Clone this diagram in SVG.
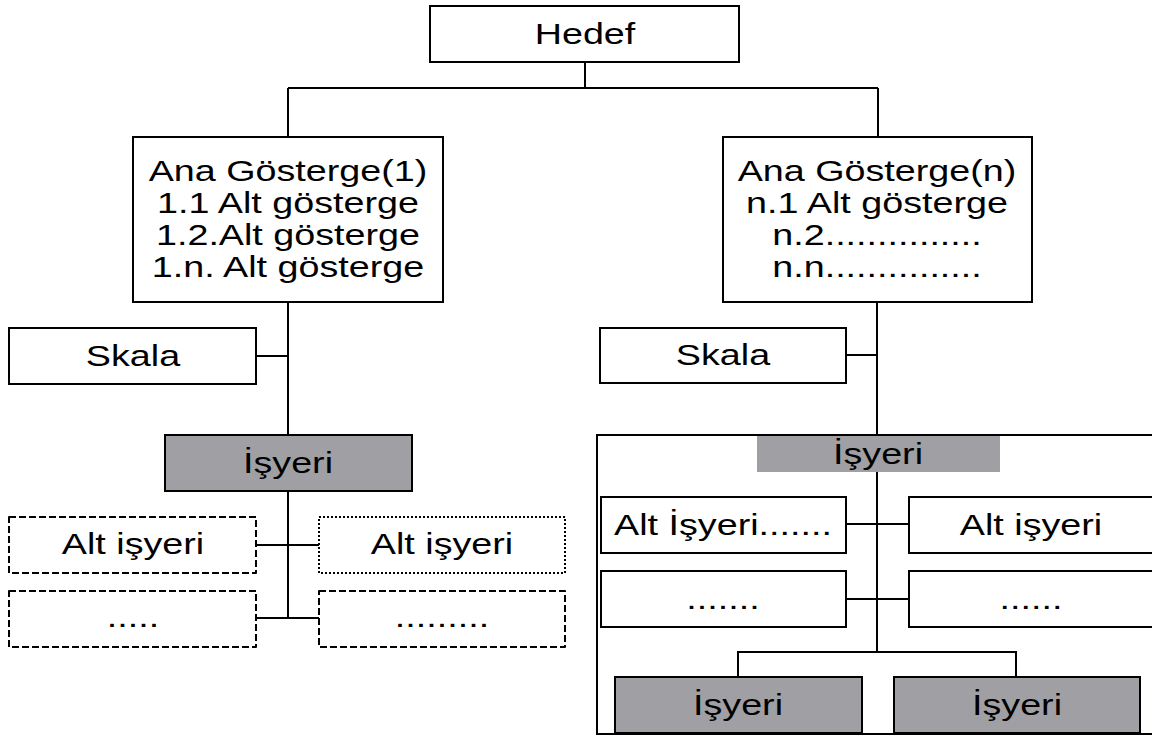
<svg xmlns="http://www.w3.org/2000/svg" width="1152" height="737" viewBox="0 0 1152 737">
<style>
rect{stroke:#000;stroke-width:2;fill:#fff}
.g{fill:#a0a0a4}
.bar{fill:#a0a0a4;stroke:none}
.dash{stroke-dasharray:7 3;stroke-linejoin:round}
.dot{stroke-dasharray:2 2}
.cont{fill:none}
text{font-family:"Liberation Sans",Arial,sans-serif;font-size:29px;fill:#000;text-anchor:middle}
#connectors path{fill:none;stroke:#000;stroke-width:2}
</style>
<rect x="0" y="0" width="1152" height="737" style="fill:#fff;stroke:none"/>
<g id="connectors">
<path d="M585 62V88M288 88H878M288 88V137M878 88V137"/>
<path d="M288 302V435M256 356H288M288 491V618M256 545H319M256 618H319"/>
<path d="M877 302V435M846 355H877M877 472V652M846 524H909M846 599H909M738 677V652H1016V677"/>
</g>
<g id="container"><rect class="cont" x="597" y="435" width="600" height="299"/></g>
<g id="hedef"><rect x="430" y="6" width="309" height="56"/><text transform="translate(585,44) scale(1.3,1)">Hedef</text></g>
<g id="ana1"><rect x="133" y="137" width="310" height="165"/>
<g transform="translate(288,0) scale(1.3,1)"><text y="181">Ana Gösterge(1)</text><text y="213">1.1 Alt gösterge</text><text y="245">1.2.Alt gösterge</text><text y="277">1.n. Alt gösterge</text></g></g>
<g id="anan"><rect x="723" y="137" width="309" height="165"/>
<g transform="translate(877,0) scale(1.3,1)"><text y="181">Ana Gösterge(n)</text><text y="213">n.1 Alt gösterge</text><text y="245">n.2...............</text><text y="277">n.n...............</text></g></g>
<g id="skala1"><rect x="9" y="328" width="247" height="56"/><text transform="translate(133,366) scale(1.3,1)">Skala</text></g>
<g id="skalan"><rect x="600" y="328" width="246" height="55"/><text transform="translate(723,365) scale(1.3,1)">Skala</text></g>
<g id="isyeri1"><rect class="g" x="165" y="435" width="247" height="56"/><text transform="translate(288,473) scale(1.3,1)">İşyeri</text></g>
<g id="alt1"><rect class="dash" x="9" y="517" width="247" height="56"/><text transform="translate(133,554) scale(1.3,1)">Alt işyeri</text></g>
<g id="alt2"><rect class="dot" x="319" y="517" width="246" height="56"/><text transform="translate(442,554) scale(1.3,1)">Alt işyeri</text></g>
<g id="alt3"><rect class="dash" x="9" y="591" width="247" height="56"/><text transform="translate(133,627) scale(1.3,1)">.....</text></g>
<g id="alt4"><rect class="dash" x="319" y="591" width="246" height="56"/><text transform="translate(442,627) scale(1.3,1)">.........</text></g>
<g id="isyerin"><rect class="bar" x="757" y="436" width="243" height="36"/><text transform="translate(878,464) scale(1.3,1)">İşyeri</text></g>
<g id="altn1"><rect x="601" y="497" width="245" height="56"/><text transform="translate(723,535) scale(1.3,1)">Alt İşyeri.......</text></g>
<g id="altn2"><rect x="909" y="497" width="260" height="56"/><text transform="translate(1031,535) scale(1.3,1)">Alt işyeri</text></g>
<g id="altn3"><rect x="601" y="571" width="245" height="56"/><text transform="translate(723,609) scale(1.3,1)">.......</text></g>
<g id="altn4"><rect x="909" y="571" width="260" height="56"/><text transform="translate(1031,609) scale(1.3,1)">......</text></g>
<g id="isyeri2"><rect class="g" x="615" y="677" width="247" height="56"/><text transform="translate(738,715) scale(1.3,1)">İşyeri</text></g>
<g id="isyeri3"><rect class="g" x="894" y="677" width="246" height="56"/><text transform="translate(1017,715) scale(1.3,1)">İşyeri</text></g>
</svg>
